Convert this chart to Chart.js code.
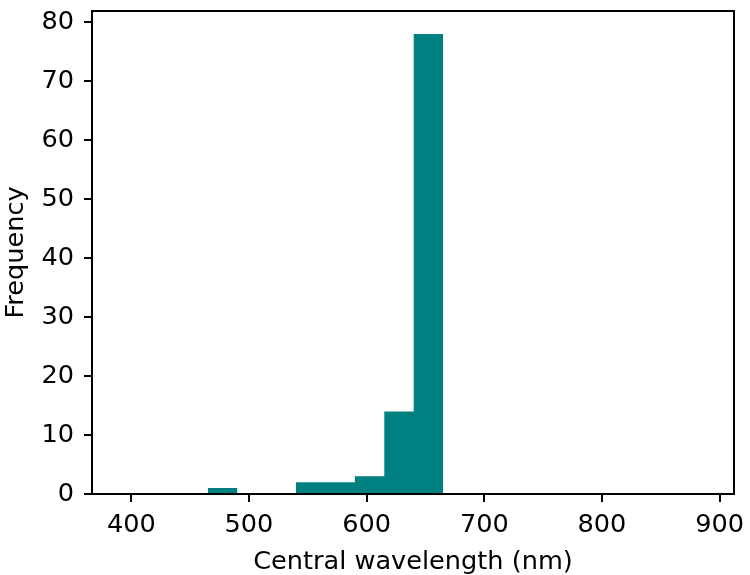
<!DOCTYPE html>
<html>
<head>
<meta charset="utf-8">
<script src="https://cdn.jsdelivr.net/npm/chart.js@4/dist/chart.umd.min.js"></script>
<style>
  html, body { margin: 0; padding: 0; background: #fff; }
  #wrap { width: 750px; height: 575px; position: relative; }
</style>
</head>
<body>
<div id="wrap"><canvas id="hist"></canvas></div>
<script>
// histogram bin edges (nm) and counts
const binEdges = [465, 490, 515, 540, 565, 590, 615, 640, 665];
const binCounts = [1, 0, 0, 2, 2, 3, 14, 78];
const xTicks = [400, 500, 600, 700, 800, 900];
const yTicks = [0, 10, 20, 30, 40, 50, 60, 70, 80];

const FONT = { family: "'DejaVu Sans', sans-serif", size: 25.6 };
const TEAL = "#008080";

// step points: each bin starts at its left edge, closed at the last edge
const stepPoints = binCounts.map((c, i) => ({ x: binEdges[i], y: c }));
stepPoints.push({ x: binEdges[binEdges.length - 1], y: 0 });

const frameBox = {
  id: "frameBox",
  afterDraw(chart) {
    const { ctx, chartArea: a } = chart;
    ctx.save();
    ctx.strokeStyle = "#000";
    ctx.lineWidth = 2;
    ctx.strokeRect(a.left, a.top, a.right - a.left, a.bottom - a.top);
    ctx.restore();
  },
};

// keep tick-label overhang from pushing the plot area around
function noOverhang(s) {
  s.paddingTop = 0;
  s.paddingBottom = 0;
  s.paddingLeft = 0;
  s.paddingRight = 0;
}

new Chart(document.getElementById("hist"), {
  type: "line",
  data: {
    datasets: [{
      data: stepPoints,
      stepped: "before",
      fill: "origin",
      backgroundColor: TEAL,
      borderWidth: 0,
      pointRadius: 0,
    }],
  },
  options: {
    responsive: true,
    maintainAspectRatio: false,
    animation: false,
    layout: { padding: { top: 11, right: 16, left: 0, bottom: 0 } },
    plugins: { legend: { display: false }, tooltip: { enabled: false } },
    scales: {
      x: {
        type: "linear",
        min: 366.6,
        max: 912.2,
        afterBuildTicks: (s) => { s.ticks = xTicks.map((v) => ({ value: v })); },
        afterFit: (s) => { s.height = 81; noOverhang(s); },
        grid: { drawOnChartArea: false, color: "#000", lineWidth: 2, tickLength: 8 },
        border: { color: "#000", width: 2 },
        ticks: { color: "#000", font: FONT, padding: 8, maxRotation: 0 },
        title: { display: true, text: "Central wavelength (nm)", color: "#000", font: FONT, padding: { top: 0, bottom: -3 } },
      },
      y: {
        type: "linear",
        min: 0,
        max: 81.9,
        afterBuildTicks: (s) => { s.ticks = yTicks.map((v) => ({ value: v })); },
        afterFit: (s) => { s.width = 92; noOverhang(s); },
        grid: { drawOnChartArea: false, color: "#000", lineWidth: 2, tickLength: 8 },
        border: { color: "#000", width: 2 },
        ticks: { color: "#000", font: FONT, padding: 10 },
        title: { display: true, text: "Frequency", color: "#000", font: FONT, padding: { top: 1, bottom: 4 } },
      },
    },
  },
  plugins: [frameBox],
});
</script>
</body>
</html>
